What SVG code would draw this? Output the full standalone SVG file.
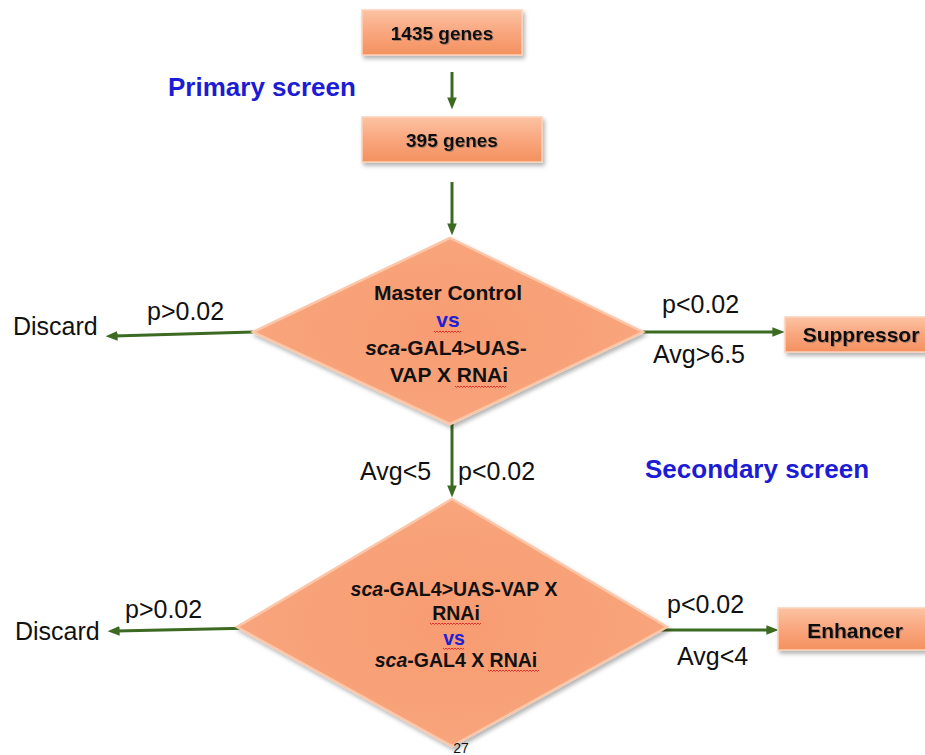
<svg xmlns="http://www.w3.org/2000/svg" width="925" height="755" viewBox="0 0 925 755">
<defs>
<style>
.t{font-family:"Liberation Sans",Arial,sans-serif;fill:#111}
.lbl{font-size:25px}
.head{font-size:26px;font-weight:bold;fill:#1c1cd4}
.bx{font-size:19px;font-weight:bold;text-anchor:middle;filter:url(#ts)}
.bx2{font-size:21px;font-weight:bold;text-anchor:middle;filter:url(#ts)}
.d1{font-size:21px;font-weight:bold;text-anchor:middle}
.d2{font-size:19.5px;font-weight:bold;text-anchor:middle}
.vs{fill:#2020d8}
.box{fill:url(#gb);stroke:#fcd2ba;stroke-width:1.5;filter:url(#sh)}
.dia{fill:url(#gd);stroke:#fcc6a8;stroke-width:2.5;stroke-linejoin:miter;filter:url(#sh)}
.con{stroke:#3d6a22;stroke-width:3;fill:none;marker-end:url(#ah)}
.sq{stroke:#e03030;stroke-width:1;fill:none}
</style>
<linearGradient id="gb" x1="0" y1="0" x2="0" y2="1">
<stop offset="0" stop-color="#fcc3a3"/>
<stop offset="0.5" stop-color="#f9a67e"/>
<stop offset="1" stop-color="#f4915f"/>
</linearGradient>
<radialGradient id="gd" cx="0.5" cy="0.5" r="0.6">
<stop offset="0" stop-color="#f89c72"/>
<stop offset="0.8" stop-color="#f8a47b"/>
<stop offset="1" stop-color="#fab797"/>
</radialGradient>
<filter id="sh" x="-10%" y="-10%" width="125%" height="130%">
<feDropShadow dx="2" dy="3" stdDeviation="2" flood-color="#000" flood-opacity="0.3"/>
</filter>
<filter id="ts" x="-10%" y="-30%" width="120%" height="160%">
<feDropShadow dx="1" dy="1" stdDeviation="0.7" flood-color="#555" flood-opacity="0.45"/>
</filter>
<marker id="ah" viewBox="0 0 10 10" refX="3" refY="5" markerWidth="4" markerHeight="4" orient="auto" markerUnits="strokeWidth">
<path d="M0,1 L10,5 L0,9 z" fill="#3d6a22"/>
</marker>
</defs>
<rect width="925" height="755" fill="#fff"/>

<g id="connectors">
<path class="con" d="M452,72 L452,101"/>
<path class="con" d="M452,182 L452,227"/>
<path class="con" d="M253,332 L114,336"/>
<path class="con" d="M643,332 L776,332"/>
<path class="con" d="M452,424 L452,489"/>
<path class="con" d="M255,628 L116,631"/>
<path class="con" d="M658,630 L770,630"/>
</g>

<g id="n1435">
<rect class="box" x="362" y="10" width="160" height="45"/>
<text class="t bx" x="442" y="40">1435 genes</text>
</g>
<g id="n395">
<rect class="box" x="362" y="117" width="180" height="45"/>
<text class="t bx" x="452" y="147">395 genes</text>
</g>

<g id="primary-label">
<text class="t head" x="168" y="96">Primary screen</text>
</g>
<g id="secondary-label">
<text class="t head" x="645" y="478">Secondary screen</text>
</g>

<g id="diamond1">
<polygon class="dia" points="450,238 643,332 450,424 253,332"/>
<text class="t d1" x="448" y="300">Master Control</text>
<text class="t d1 vs" x="448" y="327">vs</text>
<text class="t d1" x="446" y="355"><tspan font-style="italic">sca</tspan>-GAL4&gt;UAS-</text>
<text class="t d1" x="449" y="382">VAP X RNAi</text>
</g>

<g id="diamond2">
<polygon class="dia" points="452,499 667,627 452,746 237,627"/>
<text class="t d2" x="454" y="596"><tspan font-style="italic">sca</tspan>-GAL4&gt;UAS-VAP X</text>
<text class="t d2" x="456" y="620">RNAi</text>
<text class="t d2 vs" x="454" y="645">vs</text>
<text class="t d2" x="456" y="667"><tspan font-style="italic">sca</tspan>-GAL4 X RNAi</text>
</g>

<g id="spellcheck">
<path class="sq" d="M434,331 l1.5,1.5 l1.5,-1.5 l1.5,1.5 l1.5,-1.5 l1.5,1.5 l1.5,-1.5 l1.5,1.5 l1.5,-1.5 l1.5,1.5 l1.5,-1.5 l1.5,1.5 l1.5,-1.5 l1.5,1.5 l1.5,-1.5 l1.5,1.5 l1.5,-1.5 l1.5,1.5 l1.5,-1.5"/>
<path class="sq" d="M455,386 l1.5,1.5 l1.5,-1.5 l1.5,1.5 l1.5,-1.5 l1.5,1.5 l1.5,-1.5 l1.5,1.5 l1.5,-1.5 l1.5,1.5 l1.5,-1.5 l1.5,1.5 l1.5,-1.5 l1.5,1.5 l1.5,-1.5 l1.5,1.5 l1.5,-1.5 l1.5,1.5 l1.5,-1.5 l1.5,1.5 l1.5,-1.5 l1.5,1.5 l1.5,-1.5 l1.5,1.5 l1.5,-1.5 l1.5,1.5 l1.5,-1.5 l1.5,1.5 l1.5,-1.5 l1.5,1.5 l1.5,-1.5 l1.5,1.5 l1.5,-1.5 l1.5,1.5 l1.5,-1.5"/>
<path class="sq" d="M430,623 l1.5,1.5 l1.5,-1.5 l1.5,1.5 l1.5,-1.5 l1.5,1.5 l1.5,-1.5 l1.5,1.5 l1.5,-1.5 l1.5,1.5 l1.5,-1.5 l1.5,1.5 l1.5,-1.5 l1.5,1.5 l1.5,-1.5 l1.5,1.5 l1.5,-1.5 l1.5,1.5 l1.5,-1.5 l1.5,1.5 l1.5,-1.5 l1.5,1.5 l1.5,-1.5 l1.5,1.5 l1.5,-1.5 l1.5,1.5 l1.5,-1.5 l1.5,1.5 l1.5,-1.5 l1.5,1.5 l1.5,-1.5 l1.5,1.5 l1.5,-1.5 l1.5,1.5 l1.5,-1.5"/>
<path class="sq" d="M443,648 l1.5,1.5 l1.5,-1.5 l1.5,1.5 l1.5,-1.5 l1.5,1.5 l1.5,-1.5 l1.5,1.5 l1.5,-1.5 l1.5,1.5 l1.5,-1.5 l1.5,1.5 l1.5,-1.5 l1.5,1.5 l1.5,-1.5"/>
<path class="sq" d="M488,670 l1.5,1.5 l1.5,-1.5 l1.5,1.5 l1.5,-1.5 l1.5,1.5 l1.5,-1.5 l1.5,1.5 l1.5,-1.5 l1.5,1.5 l1.5,-1.5 l1.5,1.5 l1.5,-1.5 l1.5,1.5 l1.5,-1.5 l1.5,1.5 l1.5,-1.5 l1.5,1.5 l1.5,-1.5 l1.5,1.5 l1.5,-1.5 l1.5,1.5 l1.5,-1.5 l1.5,1.5 l1.5,-1.5 l1.5,1.5 l1.5,-1.5 l1.5,1.5 l1.5,-1.5 l1.5,1.5 l1.5,-1.5 l1.5,1.5 l1.5,-1.5 l1.5,1.5 l1.5,-1.5"/>
</g>

<g id="labels">
<text class="t lbl" x="13" y="335">Discard</text>
<text class="t lbl" x="147" y="320">p&gt;0.02</text>
<text class="t lbl" x="662" y="313">p&lt;0.02</text>
<text class="t lbl" x="653" y="363">Avg&gt;6.5</text>
<text class="t lbl" x="360" y="480">Avg&lt;5</text>
<text class="t lbl" x="458" y="480">p&lt;0.02</text>
<text class="t lbl" x="15" y="640">Discard</text>
<text class="t lbl" x="125" y="618">p&gt;0.02</text>
<text class="t lbl" x="667" y="613">p&lt;0.02</text>
<text class="t lbl" x="677" y="665">Avg&lt;4</text>
</g>

<g id="suppressor">
<rect class="box" x="785" y="317" width="150" height="35"/>
<text class="t bx2" x="861" y="342">Suppressor</text>
</g>
<g id="enhancer">
<rect class="box" x="778" y="608" width="155" height="42"/>
<text class="t bx2" x="855" y="638">Enhancer</text>
</g>

<g id="page-number">
<text class="t" x="461" y="753" font-size="14" text-anchor="middle" fill="#333">27</text>
</g>
</svg>
